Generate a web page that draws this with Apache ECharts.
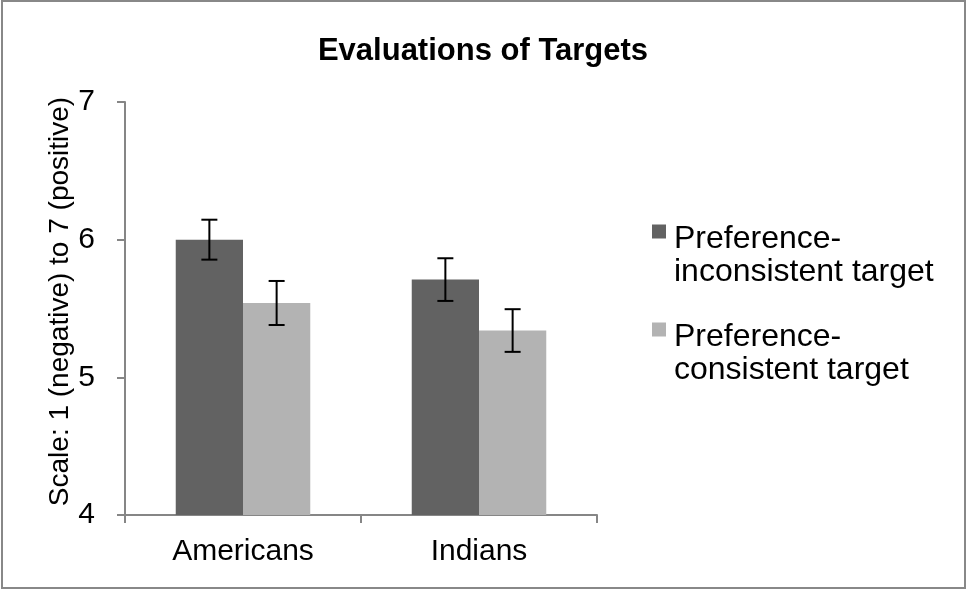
<!DOCTYPE html>
<html>
<head>
<meta charset="utf-8">
<script src="https://cdn.jsdelivr.net/npm/echarts@6/dist/echarts.min.js"></script>
<style>
html,body{margin:0;padding:0;background:#fff;}
#chart{width:966px;height:590px;}
</style>
</head>
<body>
<div id="chart"></div>
<script>
const categories = ['Americans', 'Indians'];
const seriesNames = ['Preference-inconsistent target', 'Preference-consistent target'];
const inconsistentValues = [6.00, 5.71];
const consistentValues = [5.54, 5.34];
const inconsistentErrors = [0.145, 0.155];
const consistentErrors = [0.16, 0.155];
const yTicks = [4, 5, 6, 7];

const FONT = "'Liberation Sans', Arial, sans-serif";
const CAT_GAP = 0.43;

function errData(vals, errs) {
  return vals.map((v, i) => [i, v, errs[i]]);
}

function errRenderer(sideSign) {
  return function (params, api) {
    const xi = api.value(0), v = api.value(1), e = api.value(2);
    const band = api.size([1, 0])[0];
    const bw = band * (1 - CAT_GAP) / 2;
    const off = sideSign * bw / 2;
    const top = api.coord([xi, v + e]);
    const bot = api.coord([xi, v - e]);
    const x = top[0] + off;
    const cap = 8;
    const st = { stroke: '#000', lineWidth: 2 };
    return {
      type: 'group',
      children: [
        { type: 'line', shape: { x1: x, y1: top[1], x2: x, y2: bot[1] }, style: st },
        { type: 'line', shape: { x1: x - cap, y1: top[1], x2: x + cap, y2: top[1] }, style: st },
        { type: 'line', shape: { x1: x - cap, y1: bot[1], x2: x + cap, y2: bot[1] }, style: st }
      ]
    };
  };
}

const chart = echarts.init(document.getElementById('chart'));
chart.setOption({
  animation: false,
  backgroundColor: '#fff',
  textStyle: { fontFamily: FONT },
  title: {
    text: 'Evaluations of Targets',
    left: 'center',
    top: 31,
    textStyle: { fontSize: 31, fontWeight: 'bold', color: '#000', fontFamily: FONT }
  },
  graphic: [{
    type: 'rect',
    shape: { x: 2, y: 1, width: 963, height: 587 },
    style: { fill: 'none', stroke: '#888', lineWidth: 2 },
    silent: true
  }],
  legend: {
    orient: 'vertical',
    left: 652,
    top: 193.5,
    padding: 0,
    itemGap: 3,
    itemWidth: 14,
    itemHeight: 14,
    icon: 'rect',
    data: seriesNames,
    formatter: function (name) {
      const parts = name.split('-');
      return '{s| }\n{t|' + parts[0] + '-}\n{t|' + parts.slice(1).join('-') + '}';
    },
    textStyle: {
      fontSize: 32, color: '#000', fontFamily: FONT,
      rich: {
        s: { fontSize: 10, lineHeight: 49 },
        t: { fontSize: 32, lineHeight: 33, color: '#000', fontFamily: FONT, padding: [0, 0, 0, 3] }
      }
    }
  },
  grid: { left: 125, right: 369, top: 102, bottom: 75 },
  xAxis: {
    type: 'category',
    data: categories,
    axisLine: { lineStyle: { color: '#868686', width: 2 } },
    axisTick: { show: true, length: 8, lineStyle: { color: '#868686', width: 2 } },
    axisLabel: { fontSize: 30, color: '#000', margin: 22, fontFamily: FONT }
  },
  yAxis: {
    type: 'value',
    min: 4,
    max: 7,
    interval: 1,
    name: '{n|Scale: 1 (negative) to 7 (positive)}',
    nameLocation: 'middle',
    nameGap: 43,
    nameRotate: 90,
    nameTextStyle: {
      fontSize: 28, color: '#000', fontFamily: FONT,
      rich: { n: { fontSize: 28, color: '#000', fontFamily: FONT, padding: [0, 0, 0, 14] } }
    },
    splitLine: { show: false },
    axisLine: { show: true, lineStyle: { color: '#868686', width: 2 } },
    axisTick: { show: true, length: 8, lineStyle: { color: '#868686', width: 2 } },
    axisLabel: { fontSize: 30, color: '#000', margin: 30, fontFamily: FONT,
      formatter: function (v) { return yTicks.indexOf(v) >= 0 ? String(v) : ''; } }
  },
  series: [
    {
      name: seriesNames[0], type: 'bar', data: inconsistentValues,
      barGap: '0%', barCategoryGap: (CAT_GAP * 100) + '%',
      itemStyle: { color: '#626262' }
    },
    {
      name: seriesNames[1], type: 'bar', data: consistentValues,
      barGap: '0%', barCategoryGap: (CAT_GAP * 100) + '%',
      itemStyle: { color: '#b3b3b3' }
    },
    {
      type: 'custom', name: 'err1', renderItem: errRenderer(-1),
      data: errData(inconsistentValues, inconsistentErrors),
      encode: { x: 0, y: 1 }, z: 10, silent: true
    },
    {
      type: 'custom', name: 'err2', renderItem: errRenderer(1),
      data: errData(consistentValues, consistentErrors),
      encode: { x: 0, y: 1 }, z: 10, silent: true
    }
  ]
});
</script>
</body>
</html>
